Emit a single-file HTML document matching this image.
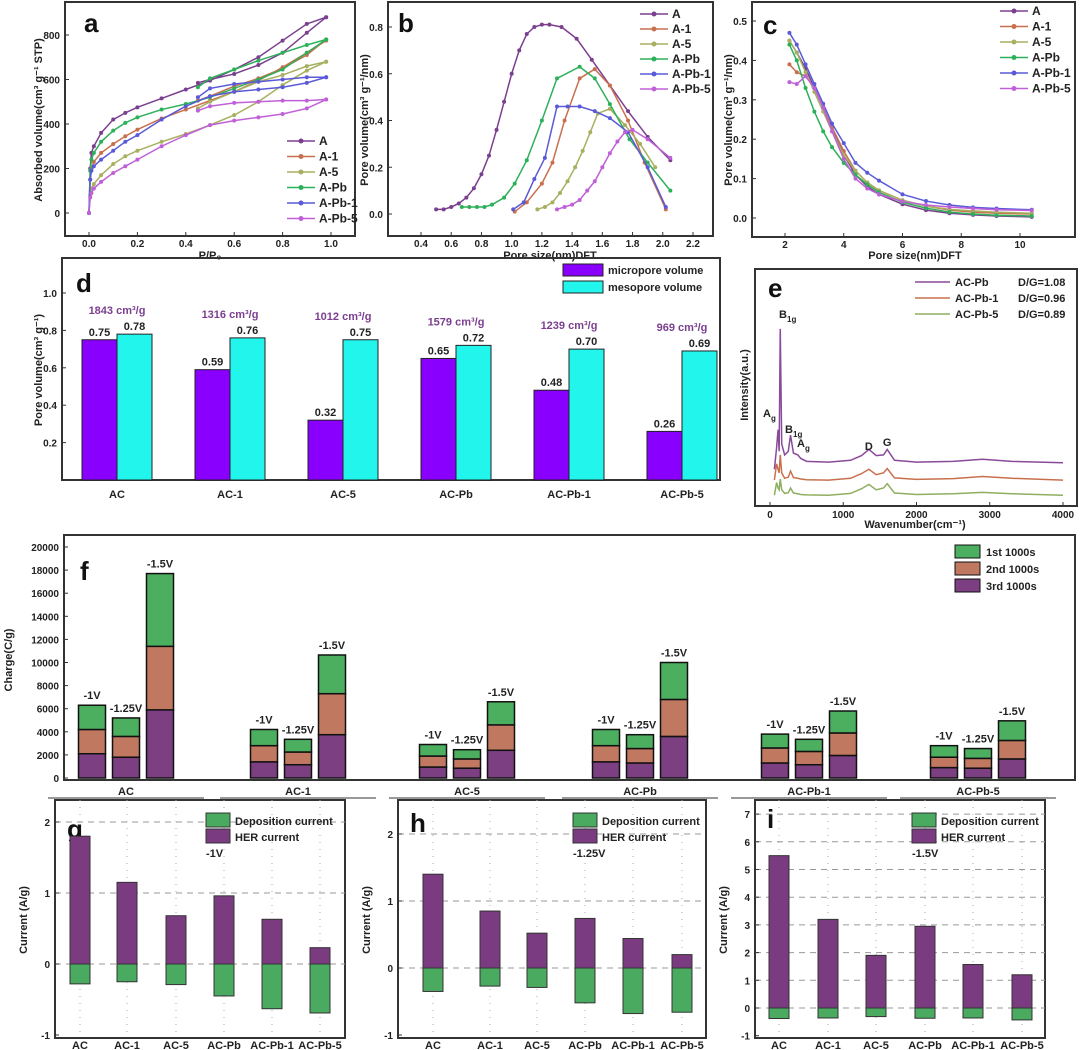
<!DOCTYPE html>
<html><head><meta charset="utf-8"><style>
body{margin:0;background:#fff}
svg{display:block;font-family:"Liberation Sans","Noto Sans CJK SC",sans-serif;font-weight:bold}
</style></head><body>
<svg id="s" width="1080" height="1050" viewBox="0 0 1080 1050" xmlns="http://www.w3.org/2000/svg"></svg>
<script>
// ---------- data ----------
const seriesNames=["A","A-1","A-5","A-Pb","A-Pb-1","A-Pb-5"];
const seriesColors=["#7b3f8f","#c8704e","#a8b060","#2db05a","#5a5ad8","#c060d8"];
// panel a
const aAdsP=[0,0.005,0.01,0.02,0.05,0.1,0.15,0.2,0.3,0.4,0.5,0.6,0.7,0.8,0.9,0.98];
const aAds=[[0,200,270,300,360,420,450,475,515,555,595,645,700,775,850,880],
[0,150,200,230,270,310,345,375,425,465,505,545,595,655,720,775],
[0,80,110,130,170,220,255,280,320,355,395,440,500,575,640,680],
[0,190,240,270,320,370,405,430,465,490,520,560,600,645,720,780],
[0,150,190,210,240,280,320,350,420,480,525,545,555,565,585,610],
[0,70,90,110,140,180,210,240,300,350,395,415,430,445,470,510]];
const aDesP=[0.98,0.9,0.8,0.7,0.6,0.5,0.45];
const aDes=[[880,810,720,665,625,600,585],[780,710,650,605,570,525,505],[680,660,620,590,545,500,470],[780,755,720,685,645,605,565],[610,610,600,590,580,560,520],[510,505,505,500,495,480,460]];
// panel b
const bX=[[0.5,0.55,0.6,0.65,0.7,0.75,0.8,0.85,0.9,0.95,1.0,1.05,1.1,1.15,1.2,1.25,1.33,1.43,1.53,1.65,1.77,1.9,2.05],
[1.02,1.1,1.2,1.27,1.35,1.45,1.55,1.65,1.77,1.88,2.02],
[1.17,1.22,1.27,1.32,1.37,1.42,1.47,1.52,1.57,1.65,1.75,1.85,1.95],
[0.67,0.72,0.77,0.82,0.87,0.95,1.02,1.1,1.2,1.3,1.45,1.55,1.65,1.78,1.9,2.05],
[1.01,1.08,1.15,1.22,1.3,1.37,1.45,1.55,1.65,1.77,1.9,2.02],
[1.3,1.35,1.4,1.45,1.5,1.55,1.6,1.65,1.7,1.75,1.8,1.9,2.05]];
const bY=[[0.02,0.02,0.03,0.045,0.07,0.11,0.17,0.25,0.36,0.48,0.6,0.7,0.77,0.8,0.81,0.81,0.8,0.75,0.66,0.55,0.44,0.33,0.23],
[0.01,0.05,0.13,0.22,0.4,0.58,0.62,0.55,0.4,0.22,0.02],
[0.02,0.03,0.05,0.09,0.14,0.2,0.27,0.35,0.43,0.45,0.38,0.3,0.2],
[0.03,0.03,0.03,0.03,0.04,0.07,0.13,0.23,0.4,0.58,0.63,0.58,0.47,0.32,0.22,0.1],
[0.02,0.05,0.15,0.24,0.46,0.46,0.46,0.44,0.41,0.35,0.2,0.03],
[0.02,0.03,0.04,0.06,0.1,0.14,0.2,0.26,0.31,0.35,0.36,0.32,0.24]];
// panel c
const cX=[2.15,2.4,2.7,3.0,3.3,3.6,4.0,4.4,4.8,5.2,6.0,6.8,7.6,8.4,9.2,10.4];
const cY=[[0.45,0.42,0.38,0.33,0.28,0.23,0.16,0.11,0.08,0.06,0.035,0.02,0.012,0.008,0.005,0.003],
[0.39,0.37,0.36,0.33,0.28,0.23,0.17,0.12,0.09,0.07,0.045,0.03,0.02,0.015,0.012,0.01],
[0.45,0.42,0.37,0.32,0.27,0.22,0.16,0.12,0.09,0.07,0.045,0.03,0.022,0.018,0.015,0.012],
[0.44,0.4,0.33,0.27,0.22,0.18,0.14,0.11,0.085,0.065,0.04,0.025,0.015,0.01,0.007,0.005],
[0.47,0.44,0.39,0.34,0.29,0.24,0.19,0.14,0.115,0.095,0.06,0.043,0.033,0.027,0.024,0.021],
[0.345,0.34,0.36,0.33,0.28,0.22,0.15,0.1,0.075,0.06,0.042,0.033,0.028,0.024,0.021,0.019]];
// panel d
const dCats=["AC","AC-1","AC-5","AC-Pb","AC-Pb-1","AC-Pb-5"];
const dMicro=[0.75,0.59,0.32,0.65,0.48,0.26];
const dMeso=[0.78,0.76,0.75,0.72,0.70,0.69];
const dSurf=["1843","1316","1012","1579","1239","969"];
const dTicks=[0.2,0.4,0.6,0.8,1.0];
// panel e
const eNames=["AC-Pb","AC-Pb-1","AC-Pb-5"];
const eRatio=["D/G=1.08","D/G=0.96","D/G=0.89"];
const eColors=["#8a4a9a","#c8704e","#8fae60"];
const eX=[60,90,110,125,140,160,200,250,280,320,380,420,500,800,1100,1250,1350,1450,1550,1600,1700,2000,2500,2900,3300,4000];
const eY=[[0.0,0.6,1.1,0.5,3.9,0.7,0.4,0.5,0.95,0.45,0.4,0.3,0.22,0.2,0.25,0.38,0.55,0.38,0.4,0.55,0.25,0.2,0.22,0.28,0.22,0.18],
[0.0,0.45,0.3,0.2,0.7,0.2,0.05,0.08,0.25,0.07,0.05,0.03,0.01,0,0.05,0.18,0.3,0.15,0.2,0.32,0.06,0.02,0.04,0.1,0.05,0.0],
[0.0,0.35,0.2,0.15,0.45,0.15,0.05,0.07,0.2,0.06,0.04,0.02,0.01,0,0.05,0.18,0.3,0.15,0.2,0.32,0.06,0.02,0.04,0.08,0.04,0.0]];
const eOffsets=[0.77,0.47,0.05];
// panel f
const fCats=["AC","AC-1","AC-5","AC-Pb","AC-Pb-1","AC-Pb-5"];
const fVolt=["-1V","-1.25V","-1.5V"];
const f3rd=[[2100,1800,5900],[1400,1150,3750],[950,850,2400],[1400,1300,3600],[1300,1150,1950],[900,850,1650]];
const f2nd=[[2100,1800,5500],[1400,1100,3550],[950,800,2200],[1400,1250,3200],[1300,1150,1950],[900,850,1600]];
const f1st=[[2100,1600,6300],[1400,1100,3350],[1000,800,2000],[1400,1200,3200],[1200,1050,1900],[1000,850,1700]];
const fTicks=[0,2000,4000,6000,8000,10000,12000,14000,16000,18000,20000];
// panels g,h,i
const cCats=["AC","AC-1","AC-5","AC-Pb","AC-Pb-1","AC-Pb-5"];
const gHER=[1.8,1.15,0.68,0.96,0.63,0.23], gDep=[-0.28,-0.25,-0.29,-0.45,-0.63,-0.69];
const hHER=[1.4,0.85,0.52,0.74,0.44,0.2], hDep=[-0.35,-0.27,-0.29,-0.52,-0.68,-0.66];
const iHER=[5.5,3.2,1.9,2.95,1.57,1.2], iDep=[-0.38,-0.36,-0.31,-0.37,-0.36,-0.43];

// ---------- helpers ----------
const S=document.getElementById('s');
const NS="http://www.w3.org/2000/svg";
function E(tag,at,txt){const e=document.createElementNS(NS,tag);for(const k in at)e.setAttribute(k,at[k]);if(txt!==undefined)e.textContent=txt;S.appendChild(e);return e;}
function lin(d0,d1,p0,p1){return v=>p0+(v-d0)*(p1-p0)/(d1-d0);}
function box(x0,y0,x1,y1,name){const r=E('rect',{x:x0,y:y0,width:x1-x0,height:y1-y0,fill:'none',stroke:'#333','stroke-width':2});}
function txt(x,y,s,o){o=o||{};const t=E('text',{x:x,y:y,'font-size':o.fs||11,'text-anchor':o.a||'middle',fill:o.c||'#222'},s);if(o.rot)t.setAttribute('transform','rotate(-90 '+x+' '+y+')');return t;}
function line(x1,y1,x2,y2,c,w,d){const l=E('line',{x1:x1,y1:y1,x2:x2,y2:y2,stroke:c||'#333','stroke-width':w||1});if(d)l.setAttribute('stroke-dasharray',d);return l;}
function poly(pts,c,name,w){const p=E('polyline',{points:pts.map(q=>q.join(',')).join(' '),fill:'none',stroke:c,'stroke-width':w||1.5});return p;}
function markers(pts,c,name){pts.forEach(q=>{const m=E('circle',{cx:q[0],cy:q[1],r:2,fill:c});});}
function xTicks(sx,vals,y,fmt,off){vals.forEach(v=>{line(sx(v),y,sx(v),y-4);txt(sx(v),y+(off||11),fmt(v),{fs:10,n:'x-tick-label'});});}
function yTicks(sy,vals,x,fmt){vals.forEach(v=>{line(x,sy(v),x+4,sy(v));txt(x-5,sy(v)+4,fmt(v),{fs:10,a:'end',n:'y-tick-label'});});}
function legend(x,y,dy){seriesNames.forEach((n,i)=>{line(x,y+i*dy,x+28,y+i*dy,seriesColors[i],1.5);const m=E('circle',{cx:x+14,cy:y+i*dy,r:2.5,fill:seriesColors[i]});txt(x+32,y+i*dy+4,n,{fs:12,a:'start',n:'legend-entry'});});}

// ---------- panel a ----------
(function(){const sx=lin(0,1,89,331),sy=lin(0,800,213,35);box(65,2,355,236,'panel-a-frame');
xTicks(sx,[0,0.2,0.4,0.6,0.8,1.0],236,v=>v.toFixed(1));yTicks(sy,[0,200,400,600,800],65,v=>v);
txt(210,259,'P/P\u2080',{fs:11,n:'x-axis-title'});txt(42,120,'Absorbed volume(cm\u00b3 g\u207b\u00b9 STP)',{fs:11,rot:1,n:'y-axis-title'});
txt(84,32,'a',{fs:26,a:'start',c:'#111',n:'panel-letter'});
aAds.forEach((s,i)=>{const pts=aAdsP.map((p,j)=>[sx(p),sy(s[j])]);const dp=aDesP.map((p,j)=>[sx(p),sy(aDes[i][j])]);poly(pts.concat(dp),seriesColors[i],'adsorption-'+seriesNames[i]);markers(pts.concat(dp),seriesColors[i],seriesNames[i]);});
legend(287,141,15.5);})();
// ---------- panel b ----------
(function(){const sx=lin(0.4,2.2,421,693),sy=lin(0,0.8,214,27);box(388,2,713,236,'panel-b-frame');
xTicks(sx,[0.4,0.6,0.8,1.0,1.2,1.4,1.6,1.8,2.0,2.2],236,v=>v.toFixed(1));yTicks(sy,[0,0.2,0.4,0.6,0.8],388,v=>v.toFixed(1));
txt(550,259,'Pore size(nm)DFT',{fs:11,n:'x-axis-title'});txt(368,120,'Pore volume(cm\u00b3 g\u207b\u00b9/nm)',{fs:11,rot:1,n:'y-axis-title'});
txt(398,32,'b',{fs:26,a:'start',c:'#111',n:'panel-letter'});
bX.forEach((xs,i)=>{const pts=xs.map((x,j)=>[sx(x),sy(bY[i][j])]);poly(pts,seriesColors[i],'pore-'+seriesNames[i]);markers(pts,seriesColors[i],seriesNames[i]);});
legend(640,14,15);})();
// ---------- panel c ----------
(function(){const sx=lin(2,10,785,1020),sy=lin(0,0.5,218,21);box(752,2,1075,237,'panel-c-frame');
xTicks(sx,[2,4,6,8,10],237,v=>v);yTicks(sy,[0,0.1,0.2,0.3,0.4,0.5],752,v=>v.toFixed(1));
txt(915,259,'Pore size(nm)DFT',{fs:11,n:'x-axis-title'});txt(732,120,'Pore volume(cm\u00b3 g\u207b\u00b9/nm)',{fs:11,rot:1,n:'y-axis-title'});
txt(763,34,'c',{fs:26,a:'start',c:'#111',n:'panel-letter'});
cY.forEach((s,i)=>{const pts=cX.map((x,j)=>[sx(x),sy(s[j])]);poly(pts,seriesColors[i],'pore-'+seriesNames[i]);markers(pts,seriesColors[i],seriesNames[i]);});
legend(1000,11,15.5);})();
// ---------- panel d ----------
(function(){const sy=lin(0,1,480,293);box(62,258,720,480,'panel-d-frame');
yTicks(sy,dTicks,62,v=>v.toFixed(1));txt(42,370,'Pore volume(cm\u00b3 g\u207b\u00b9)',{fs:11,rot:1,n:'y-axis-title'});
txt(76,292,'d',{fs:26,a:'start',c:'#111',n:'panel-letter'});
const x0=117,step=113,bw=35;
dCats.forEach((c,i)=>{const cx=x0+i*step;
let r=E('rect',{x:cx-bw,y:sy(dMicro[i]),width:bw,height:480-sy(dMicro[i]),fill:'#8a00ff',stroke:'#222'});
r=E('rect',{x:cx,y:sy(dMeso[i]),width:bw,height:480-sy(dMeso[i]),fill:'#22f5ec',stroke:'#222'});
txt(cx-bw/2,sy(dMicro[i])-4,dMicro[i].toFixed(2),{fs:11,n:'value-label'});txt(cx+bw/2,sy(dMeso[i])-4,dMeso[i].toFixed(2),{fs:11,n:'value-label'});
txt(cx,sy(Math.max(dMicro[i],dMeso[i]))-20,dSurf[i]+' cm\u00b3/g',{fs:11,c:'#7b3f8f',n:'surface-area-label'});
txt(cx,498,c,{fs:11,n:'x-tick-label'});});
[['micropore volume','#8a00ff'],['mesopore volume','#22f5ec']].forEach((l,i)=>{const r=E('rect',{x:563,y:264+i*17,width:40,height:12,fill:l[1],stroke:'#222'});txt(608,274+i*17,l[0],{fs:11,a:'start',n:'legend-entry'});});})();
// ---------- panel e ----------
(function(){const sx=lin(0,4000,770,1063),sy=lin(0,1,497,461);box(755,269,1077,506,'panel-e-frame');
xTicks(sx,[0,1000,2000,3000,4000],506,v=>v,12);txt(915,528,'Wavenumber(cm\u207b\u00b9)',{fs:11,n:'x-axis-title'});
txt(748,385,'Intensity(a.u.)',{fs:11,rot:1,n:'y-axis-title'});txt(768,297,'e',{fs:26,a:'start',c:'#111',n:'panel-letter'});
eY.forEach((s,i)=>{const pts=eX.map((x,j)=>[sx(x),sy(s[j]+eOffsets[i])]);poly(pts,eColors[i],'spectrum-'+eNames[i],1.5);
line(915,282+i*16,950,282+i*16,eColors[i],1.5);txt(955,286+i*16,eNames[i],{fs:11,a:'start',n:'legend-entry'});txt(1018,286+i*16,eRatio[i],{fs:11,a:'start',n:'legend-ratio'});});
[['B',779,318,'1g'],['A',763,417,'g'],['B',785,433,'1g'],['A',797,447,'g']].forEach(p=>{txt(p[1],p[2],p[0],{fs:11,a:'start',n:'peak-label'});txt(p[1]+8,p[2]+4,p[3],{fs:8,a:'start',n:'peak-label-sub'});});
txt(sx(1350),450,'D',{fs:11,n:'peak-label'});txt(sx(1600),446,'G',{fs:11,n:'peak-label'});})();
// ---------- panel f ----------
(function(){const sy=lin(0,20000,778,547);box(64,535,1075,780,'panel-f-frame');
yTicks(sy,fTicks,64,v=>v);txt(12,660,'Charge(C/g)',{fs:11,rot:1,n:'y-axis-title'});txt(80,580,'f',{fs:26,a:'start',c:'#111',n:'panel-letter'});
const gx=[126,298,467,640,809,978],bw=27,sp=34;const cols=['#7b3f82','#c07860','#4caf60'];
fCats.forEach((c,i)=>{[0,1,2].forEach(k=>{const cx=gx[i]+(k-1)*sp;let base=0;[f3rd,f2nd,f1st].forEach((arr,s)=>{const v=arr[i][k];const r=E('rect',{x:cx-bw/2,y:sy(base+v),width:bw,height:sy(base)-sy(base+v),fill:cols[s],stroke:'#111','stroke-width':1.5});base+=v;});
txt(cx,sy(base)-6,fVolt[k],{fs:11,n:'voltage-label'});});
txt(gx[i],795,c,{fs:11,n:'x-tick-label'});line(gx[i]-78,798,gx[i]+78,798,'#333',1);});
[['1st  1000s','#4caf60'],['2nd  1000s','#c07860'],['3rd  1000s','#7b3f82']].forEach((l,i)=>{const r=E('rect',{x:955,y:545+i*17,width:25,height:13,fill:l[1],stroke:'#111'});txt(986,556+i*17,l[0],{fs:11,a:'start',n:'legend-entry'});});})();
// ---------- g h i ----------
function cur(o){const sy=lin(0,1,o.y0,o.y1);box(o.l,800,o.r,1038,'panel-'+o.n+'-frame');
o.grid.forEach(v=>line(o.l,sy(v),o.r,sy(v),'#999',1,'6,5'));
o.xs.forEach(x=>line(x,800,x,1038,'#aaa',1,'1,6'));
yTicks(sy,o.ticks,o.l,v=>v);txt(o.l-28,920,'Current (A/g)',{fs:11,rot:1,n:'y-axis-title'});
txt(o.l+12,o.ly,o.n,{fs:26,a:'start',c:'#111',n:'panel-letter'});
cCats.forEach((c,i)=>{const x=o.xs[i];let r=E('rect',{x:x-10,y:sy(o.her[i]),width:20,height:sy(0)-sy(o.her[i]),fill:'#7b3b80',stroke:'#333'});
r=E('rect',{x:x-10,y:sy(0),width:20,height:sy(o.dep[i])-sy(0),fill:'#4aaa60',stroke:'#333'});
txt(x,1049,c,{fs:11,n:'x-tick-label'});});
[['Deposition current','#4aaa60'],['HER current','#7b3b80']].forEach((l,i)=>{const r=E('rect',{x:o.lg,y:813+i*16,width:24,height:14,fill:l[1],stroke:'#333'});txt(o.lg+29,825+i*16,l[0],{fs:11,a:'start',n:'legend-entry'});});
txt(o.lg,857,o.v,{fs:11,a:'start',n:'voltage-label'});}
cur({n:'g',l:55,r:345,y0:964,y1:893,grid:[2,1,0],ticks:[-1,0,1,2],xs:[80,127,176,224,272,320],her:gHER,dep:gDep,lg:206,v:'-1V',ly:838});
cur({n:'h',l:398,r:706,y0:968,y1:901,grid:[2,1,0],ticks:[-1,0,1,2],xs:[433,490,537,585,633,682],her:hHER,dep:hDep,lg:573,v:'-1.25V',ly:832});
cur({n:'i',l:755,r:1045,y0:1008,y1:980.3,grid:[7,6,5,4,3,2,1,0],ticks:[-1,0,1,2,3,4,5,6,7],xs:[779,828,876,925,973,1022],her:iHER,dep:iDep,lg:912,v:'-1.5V',ly:828});
</script>
</body></html>
